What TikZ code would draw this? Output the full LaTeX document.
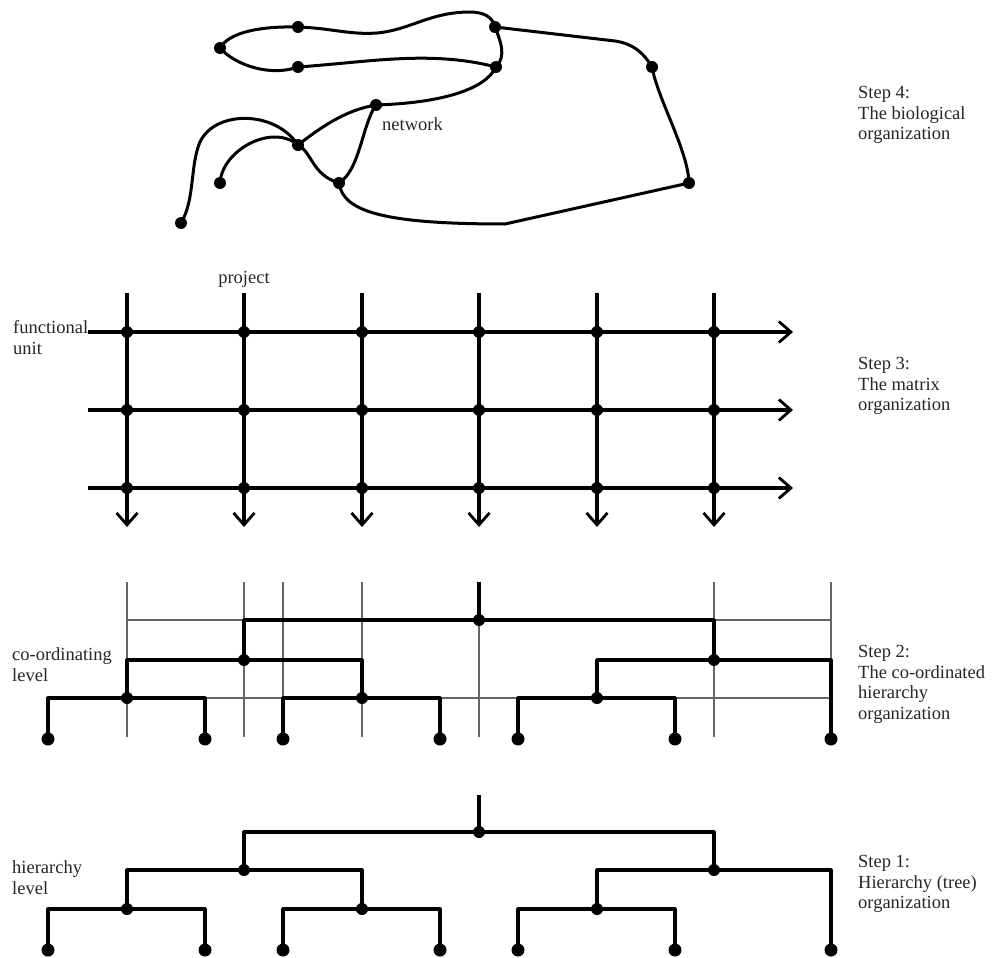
\documentclass[tikz,border=0pt]{standalone}
\usepackage{fontspec}
\setmainfont{Liberation Serif}
\usetikzlibrary{arrows.meta}
\begin{document}
\begin{tikzpicture}[x=1pt,y=-1pt,
  thick line/.style={line width=3.2pt,line join=round},
  thin line/.style={line width=1.2pt,draw=black!60},
  netline/.style={line width=3pt,line cap=round,line join=round},
  dot/.style={circle,fill=black,inner sep=0pt,minimum size=12pt},
  leaf/.style={circle,fill=black,inner sep=0pt,minimum size=13pt},
  lbl/.style={font=\fontsize{18.5}{20.5}\selectfont,text=black!85,inner sep=0pt,align=left},
  arr/.style={thick line,-{Straight Barb[length=12pt,width=21pt,line width=2.8pt]}}
]
\useasboundingbox (0,0) rectangle (994,958);

% ================= Step 4: network =================
\node[dot] (A) at (220,48) {};
\node[dot] (B) at (298,27) {};
\node[dot] (C) at (298,67) {};
\node[dot] (D) at (495,27) {};
\node[dot] (E) at (496,67) {};
\node[dot] (F) at (652,67) {};
\node[dot] (G) at (376,105) {};
\node[dot] (H) at (298,145) {};
\node[dot] (I) at (339,183) {};
\node[dot] (J) at (689,183) {};
\node[dot] (K) at (220,183) {};
\node[dot] (L) at (181,223) {};

\draw[netline] (A.center) .. controls (228,34) and (255,26) .. (B.center);
\draw[netline] (A.center) .. controls (235,65) and (270,77) .. (C.center);
\draw[netline] (B.center) .. controls (330,28) and (350,35) .. (377,33)
   .. controls (410,30) and (430,12) .. (470,12)
   .. controls (485,12) and (493,18) .. (D.center);
\draw[netline] (D.center) .. controls (500,40) and (507,56) .. (E.center);
\draw[netline] (C.center) .. controls (370,62) and (430,50) .. (E.center);
\draw[netline] (D.center) -- (615,41) .. controls (635,44) and (645,55) .. (F.center);
\draw[netline] (F.center) .. controls (658,100) and (688,150) .. (J.center);
\draw[netline] (I.center) .. controls (343,212) and (385,224) .. (505,224) -- (J.center);
\draw[netline] (E.center) .. controls (485,90) and (440,103) .. (G.center);
\draw[netline] (G.center) .. controls (345,110) and (320,128) .. (H.center);
\draw[netline] (G.center) .. controls (362,125) and (360,170) .. (I.center);
\draw[netline] (H.center) .. controls (312,152) and (312,175) .. (I.center);
\draw[netline] (K.center) .. controls (222,150) and (272,123) .. (H.center);
\draw[netline] (L.center) .. controls (195,200) and (190,165) .. (200,142)
   .. controls (215,110) and (275,110) .. (H.center);

\node[lbl,anchor=base west] (netlbl) at (382,130) {network};

% ================= Step 3: matrix =================
\foreach \x [count=\i] in {127,244,362,479,597,714}{
  \coordinate (mt\i) at (\x,293);
  \coordinate (mb\i) at (\x,527);
  \draw[arr] (mt\i) -- (mb\i);
}
\foreach \y [count=\j] in {332,410,488}{
  \coordinate (ml\j) at (88,\y);
  \coordinate (mr\j) at (793,\y);
  \draw[arr] (ml\j) -- (mr\j);
}
\foreach \x [count=\i] in {127,244,362,479,597,714}{
  \foreach \y [count=\j] in {332,410,488}{
    \node[dot] (m\i-\j) at (\x,\y) {};
  }
}
\node[lbl,anchor=base] (projlbl) at (244,283) {project};
\node[lbl,anchor=north west] (funclbl) at (13,320.5) {functional\\unit};

% ================= Step 2: co-ordinated hierarchy =================
\foreach \x in {127,244,283,362,479,714,831}{
  \draw[thin line] (\x,582) -- (\x,737);
}
\draw[thin line] (127,620) -- (831,620);
\draw[thin line] (127,698) -- (831,698);

\node[dot] (r2) at (479,620) {};
\node[dot] (a2) at (244,660) {};
\node[dot] (b2) at (714,660) {};
\node[dot] (c2) at (127,698) {};
\node[dot] (d2) at (362,698) {};
\node[dot] (e2) at (597,698) {};
\foreach \x [count=\k] in {48,205,283,440,518,675,831}{
  \node[leaf] (l2-\k) at (\x,739) {};
}
\coordinate (top2) at (479,582);
\draw[thick line] (top2) -- (r2.center);
\draw[thick line] (a2.center) -- (244,620) -- (714,620) -- (b2.center);
\draw[thick line] (c2.center) -- (127,660) -- (362,660) -- (d2.center);
\draw[thick line] (e2.center) -- (597,660) -- (831,660) -- (l2-7.center);
\draw[thick line] (l2-1.center) -- (48,698) -- (205,698) -- (l2-2.center);
\draw[thick line] (l2-3.center) -- (283,698) -- (440,698) -- (l2-4.center);
\draw[thick line] (l2-5.center) -- (518,698) -- (675,698) -- (l2-6.center);
\node[lbl,anchor=north west] (coordlbl) at (12,647.5) {co-ordinating\\level};

% ================= Step 1: hierarchy tree =================
\node[dot] (r1) at (479,832) {};
\node[dot] (a1) at (244,870) {};
\node[dot] (b1) at (714,870) {};
\node[dot] (c1) at (127,909) {};
\node[dot] (d1) at (362,909) {};
\node[dot] (e1) at (597,909) {};
\foreach \x [count=\k] in {48,205,283,440,518,675,831}{
  \node[leaf] (l1-\k) at (\x,950) {};
}
\coordinate (top1) at (479,795);
\draw[thick line] (top1) -- (r1.center);
\draw[thick line] (a1.center) -- (244,832) -- (714,832) -- (b1.center);
\draw[thick line] (c1.center) -- (127,870) -- (362,870) -- (d1.center);
\draw[thick line] (e1.center) -- (597,870) -- (831,870) -- (l1-7.center);
\draw[thick line] (l1-1.center) -- (48,909) -- (205,909) -- (l1-2.center);
\draw[thick line] (l1-3.center) -- (283,909) -- (440,909) -- (l1-4.center);
\draw[thick line] (l1-5.center) -- (518,909) -- (675,909) -- (l1-6.center);
\node[lbl,anchor=north west] (hierlbl) at (12,860.5) {hierarchy\\level};

% ================= Step labels =================
\node[lbl,anchor=north west] (s4) at (858,86.5) {Step 4:\\The biological\\organization};
\node[lbl,anchor=north west] (s3) at (858,357.5) {Step 3:\\The matrix\\organization};
\node[lbl,anchor=north west] (s2) at (858,645.5) {Step 2:\\The co-ordinated\\hierarchy\\organization};
\node[lbl,anchor=north west] (s1) at (858,855.5) {Step 1:\\Hierarchy (tree)\\organization};
\end{tikzpicture}
\end{document}
